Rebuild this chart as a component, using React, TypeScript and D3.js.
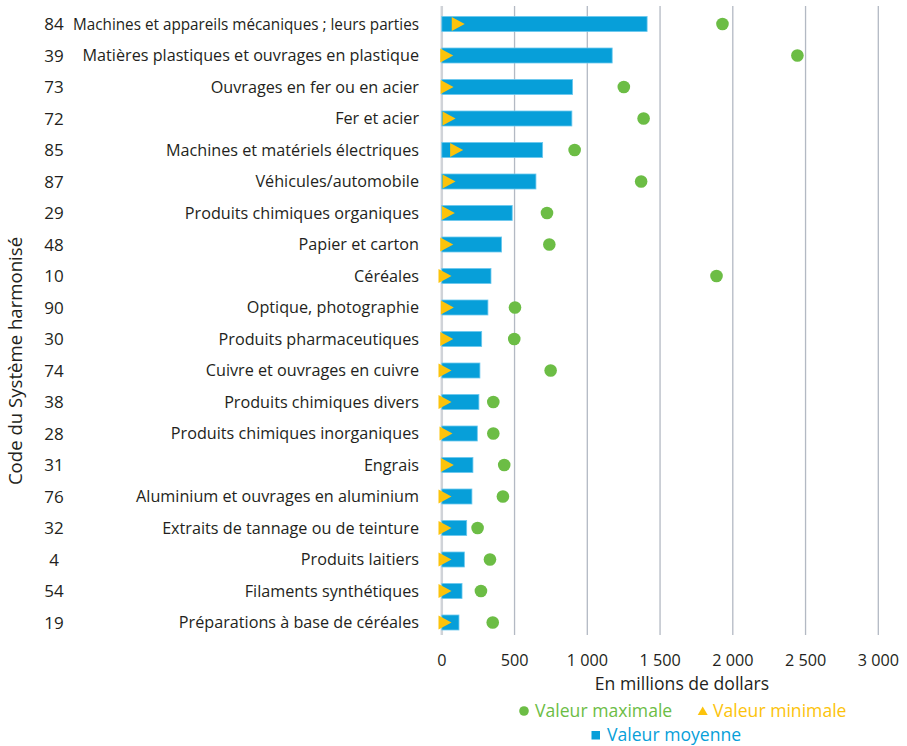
import React, { useEffect, useRef } from "react";
import * as d3 from "d3";

const codes = ["84","39","73","72","85","87","29","48","10","90","30","74","38","28","31","76","32","4","54","19"];
const categories = [
  "Machines et appareils mécaniques ; leurs parties",
  "Matières plastiques et ouvrages en plastique",
  "Ouvrages en fer ou en acier",
  "Fer et acier",
  "Machines et matériels électriques",
  "Véhicules/automobile",
  "Produits chimiques organiques",
  "Papier et carton",
  "Céréales",
  "Optique, photographie",
  "Produits pharmaceutiques",
  "Cuivre et ouvrages en cuivre",
  "Produits chimiques divers",
  "Produits chimiques inorganiques",
  "Engrais",
  "Aluminium et ouvrages en aluminium",
  "Extraits de tannage ou de teinture",
  "Produits laitiers",
  "Filaments synthétiques",
  "Préparations à base de céréales",
];
const meanValues = [1411,1171,899,894,693,647,484,411,338,317,274,262,255,244,214,207,171,155,139,118];
const maxValues = [1929,2444,1251,1387,913,1370,723,739,1888,503,498,748,354,354,429,420,246,331,269,350];
const minValues = [113,34,36,50,102,50,45,34,22,38,34,22,22,29,38,22,22,22,22,22];
const xTicks = [0,500,1000,1500,2000,2500,3000];

const W = 907, H = 746;
const FONT = "'Open Sans', sans-serif";
const TEXT = "#231f20";
const BLUE = "#079fd9";
const GREEN = "#6cbd45";
const YELLOW = "#fcc30b";
const LABEL_RIGHT = 419;
const LABEL_MAX_W = 346;

const fmt = (v: number) => (v >= 1000 ? `${Math.floor(v / 1000)} ${String(v % 1000).padStart(3, "0")}` : String(v));

export default function App() {
  const labelsRef = useRef<SVGGElement>(null);
  useEffect(() => {
    const g = labelsRef.current;
    if (!g) return;
    g.querySelectorAll("text").forEach((t) => {
      const w = (t as SVGTextElement).getComputedTextLength();
      if (w > LABEL_MAX_W) {
        t.setAttribute("textLength", String(LABEL_MAX_W));
        t.setAttribute("lengthAdjust", "spacingAndGlyphs");
      }
    });
  }, []);
  const x = d3.scaleLinear().domain([0, 3000]).range([441.8, 878.3]);
  const y = d3.scaleBand<number>().domain(d3.range(categories.length)).range([8.25, 638.25]);
  const bh = 15;
  const triPath = (cx: number, cy: number) => `M${cx - 6.5},${cy - 7}L${cx + 6.5},${cy}L${cx - 6.5},${cy + 7}Z`;
  return (
    <svg width={W} height={H} style={{ display: "block", position: "absolute", left: 0, top: 0 }} fontFamily={FONT}>
      <rect width={W} height={H} fill="#fff" />
      {xTicks.filter((t) => t > 0).map((t) => (
        <line key={t} x1={x(t)} x2={x(t)} y1={6} y2={635} stroke="#b3b9c3" strokeWidth={1.3} />
      ))}
      <line x1={x(0)} x2={x(0)} y1={6} y2={635} stroke="#d0d3d8" strokeWidth={2.5} />
      {categories.map((c, i) => {
        const cy = y(i)! + y.bandwidth() / 2;
        return (
          <g key={i}>
            <text x={54} y={cy} dy="0.36em" textAnchor="middle" fontSize={17} fill={TEXT}>{codes[i]}</text>
            <rect x={x(0)} y={cy - bh / 2} width={x(meanValues[i]) - x(0)} height={bh} fill={BLUE} stroke="#6cc8ee" strokeWidth={0.8} />
            <path d={triPath(x(minValues[i]), cy)} fill={YELLOW} />
            <circle cx={x(maxValues[i])} cy={cy} r={6.3} fill={GREEN} />
          </g>
        );
      })}
      <g ref={labelsRef}>
        {categories.map((c, i) => {
          const cy = y(i)! + y.bandwidth() / 2;
          return (
            <text key={i} x={LABEL_RIGHT} y={cy} dy="0.36em" textAnchor="end" fontSize={16.2} fill={TEXT}>{c}</text>
          );
        })}
      </g>
      {xTicks.map((t) => (
        <text key={t} x={x(t)} y={660} dy="0.36em" textAnchor="middle" fontSize={16.2} fill={TEXT}>{fmt(t)}</text>
      ))}
      <text x={682} y={684} dy="0.36em" textAnchor="middle" fontSize={17.6} fill={TEXT}>En millions de dollars</text>
      <text transform={`translate(15,361) rotate(-90)`} dy="0.36em" textAnchor="middle" fontSize={18.6} fill={TEXT}>Code du Système harmonisé</text>
      <circle cx={524} cy={711} r={4.8} fill={GREEN} />
      <text x={535} y={711} dy="0.36em" fontSize={17.6} fill={GREEN}>Valeur maximale</text>
      <path d={`M${702.7 - 5},${715}L${702.7},${706.5}L${702.7 + 5},${715}Z`} fill={YELLOW} />
      <text x={713} y={711} dy="0.36em" fontSize={17.6} fill={YELLOW}>Valeur minimale</text>
      <rect x={591.5} y={731} width={8.5} height={8.5} fill={BLUE} />
      <text x={607} y={735} dy="0.36em" fontSize={17.6} fill={BLUE}>Valeur moyenne</text>
    </svg>
  );
}
